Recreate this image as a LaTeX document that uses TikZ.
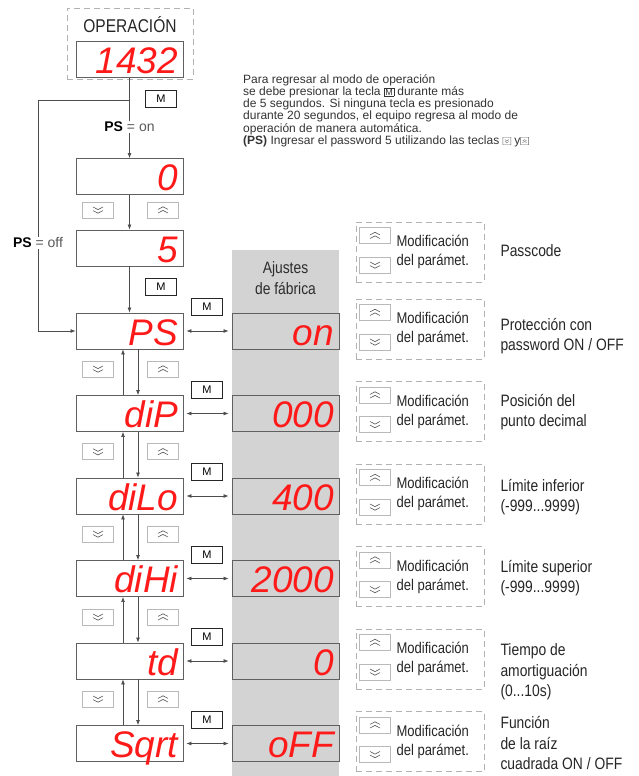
\documentclass[tikz,border=0pt]{standalone}
\usepackage{fontspec}
\setmainfont{Liberation Sans}
\newfontfamily\narrowfont[FakeStretch=0.84]{Liberation Sans}
\newfontfamily\segfont{Liberation Sans}
\usetikzlibrary{arrows.meta,positioning}
\definecolor{segred}{HTML}{FF1A1A}
\definecolor{linegray}{HTML}{4D4D4D}
\definecolor{colgray}{HTML}{D3D3D3}

% small key icons used inside the note
\newcommand{\icM}{{\fboxsep=0.8pt\fboxrule=0.5pt\fbox{\fontsize{9}{9}\selectfont M}}}
\newcommand{\icdn}{\tikz[baseline=0pt]{\draw[gray!80!black, line width=0.4pt] (0pt,-0.5pt) rectangle (8pt,7pt) (2pt,4.6pt)--(4pt,3.4pt)--(6pt,4.6pt) (2pt,2.8pt)--(4pt,1.6pt)--(6pt,2.8pt);}}
\newcommand{\icup}{\tikz[baseline=0pt]{\draw[gray!80!black, line width=0.4pt] (0pt,-0.5pt) rectangle (8pt,7pt) (2pt,1.6pt)--(4pt,2.8pt)--(6pt,1.6pt) (2pt,3.4pt)--(4pt,4.6pt)--(6pt,3.4pt);}}

\begin{document}
\begin{tikzpicture}[
    x=1pt, y=-1pt,
    disp/.style={draw=gray!75!black, line width=0.9pt, fill=white, minimum width=107pt, minimum height=36pt,
        inner xsep=5pt, inner ysep=4pt, text width=97pt, text height=28pt, text depth=0pt, align=right,
        font=\segfont\itshape\fontsize{37}{37}\selectfont, text=segred},
    fab/.style={disp, fill=none},
    key/.style={draw=gray!55, line width=0.7pt, fill=white, minimum width=31pt, minimum height=16pt, inner sep=0pt},
    dnkey/.style={key, path picture={\draw[gray!70!black, line width=0.6pt]
        ([shift={(-5pt,3pt)}]path picture bounding box.center) -- ++(5pt,-2.6pt) -- ++(5pt,2.6pt)
        ([shift={(-5pt,-0.6pt)}]path picture bounding box.center) -- ++(5pt,-2.6pt) -- ++(5pt,2.6pt);}},
    upkey/.style={key, path picture={\draw[gray!70!black, line width=0.6pt]
        ([shift={(-5pt,-3pt)}]path picture bounding box.center) -- ++(5pt,2.6pt) -- ++(5pt,-2.6pt)
        ([shift={(-5pt,0.6pt)}]path picture bounding box.center) -- ++(5pt,2.6pt) -- ++(5pt,-2.6pt);}},
    mkey/.style={draw=gray!30!black, line width=0.7pt, fill=white, minimum width=31pt, minimum height=17pt,
        inner sep=0pt, font=\fontsize{11}{11}\selectfont},
    dbox/.style={draw=gray!60, dash pattern=on 6pt off 4pt, line width=0.9pt, minimum width=128pt, minimum height=60pt},
    arr/.style={-{Latex[length=5pt,width=4pt]}, draw=linegray, line width=0.7pt},
    darr/.style={{Latex[length=5pt,width=4pt]}-{Latex[length=5pt,width=4pt]}, draw=linegray, line width=0.7pt,
        shorten <=3pt, shorten >=3pt},
    lbl/.style={font=\narrowfont\fontsize{16.5}{20.5}\selectfont, align=left, anchor=west, text=black!85},
    modtxt/.style={font=\narrowfont\fontsize{15.5}{19}\selectfont, align=left, anchor=west, text=black!85},
    cond/.style={fill=white, inner sep=1pt, font=\fontsize{14}{14}\selectfont}
]
\useasboundingbox (0,0) rectangle (639,776);
\fill[colgray] (232,250) rectangle (339,776);

% operation display
\node[dbox, minimum width=126pt, minimum height=71pt] (opbox) at (130,43.5) {};
\node[font=\narrowfont\fontsize{18.5}{18.5}\selectfont, text=black!85] (optxt) at (130,25) {OPERACIÓN};
\node[disp] (op) at (129.5,59.5) {1432};

\node[anchor=north west, align=left, inner sep=0pt, font=\fontsize{12}{11}\selectfont, text=black!80] (note) at (243,74)
    {Para regresar al modo de operación\\
     se debe presionar la tecla \icM{} durante más\\
     de 5 segundos. Si ninguna tecla es presionado\\
     durante 20 segundos, el equipo regresa al modo de\\
     operación de manera automática.\\
     \textbf{(PS)} Ingresar el password 5 utilizando las teclas \icdn{} y\icup};

% password entry
\node[disp] (zero) at (129.5,176.5) {0};
\node[disp] (five) at (129.5,248) {5};
\node[mkey] (m0) at (161,99) {M};
\node[mkey] (m1) at (161,287) {M};
\node[dnkey] (dn0) at (98,210) {};
\node[upkey] (up0) at (163,210) {};

\node[font=\narrowfont\fontsize{16.5}{20.5}\selectfont, text=gray!35!black, align=center] (ajtxt) at (285.5,278) {Ajustes\\de fábrica};

% parameter rows
\foreach \n/\y/\d/\f in {ps/331/PS/on, dip/413.5/diP/000, dilo/496/diLo/400, dihi/578.5/diHi/2000, td/661/td/0, sqrt/743.5/Sqrt/oFF} {
  \node[disp] (\n) at (129.5,\y) {\d};
  \node[fab] (\n-fab) at (285.5,\y) {\f};
  \node[mkey] (\n-m) at (207,\y-24) {M};
  \draw[darr] (\n) -- (\n-fab);
  \node[dbox] (\n-box) at (420,\y-2) {};
  \node[upkey] (\n-up) at (375,\y-18.5) {};
  \node[dnkey] (\n-dn) at (375,\y+11) {};
  \node[modtxt] (\n-mod) at (393,\y-2) {Modificación\\del parámet.};
}
\node[dbox] (pc-box) at (420,252) {};
\node[upkey] (pc-up) at (375,235.5) {};
\node[dnkey] (pc-dn) at (375,265) {};
\node[modtxt] (pc-mod) at (393,252) {Modificación\\del parámet.};

\foreach \y [count=\k] in {369, 451.75, 534, 617, 699} {
  \node[dnkey] (ldn\k) at (98,\y) {};
  \node[upkey] (lup\k) at (163,\y) {};
}

\node[lbl] (pc-lbl) at (497,251) {Passcode};
\node[lbl] (ps-lbl) at (497,336) {Protección con\\password ON / OFF};
\node[lbl] (dip-lbl) at (497,412) {Posición del\\punto decimal};
\node[lbl] (dilo-lbl) at (497,497) {Límite inferior\\(-999...9999)};
\node[lbl] (dihi-lbl) at (497,578) {Límite superior\\(-999...9999)};
\node[lbl] (td-lbl) at (497,672) {Tiempo de\\amortiguación\\(0...10s)};
\node[lbl] (sqrt-lbl) at (497,743) {Función\\de la raíz\\cuadrada ON / OFF};

% connectors
\coordinate (br) at (129.5,100);
\coordinate (lft) at (38,100);
\draw[arr] (op) -- (zero);
\draw[arr] (br) -- (lft) |- (ps);
\node[cond] (pson) at (129.5,127) {\textbf{PS} \textcolor{gray!70!black}{= on}};
\node[cond] (psoff) at (38,243) {\textbf{PS} \textcolor{gray!70!black}{= off}};
\draw[arr] (zero) -- (five);
\draw[arr] (five) -- (ps);
\foreach \a/\b in {ps/dip, dip/dilo, dilo/dihi, dihi/td, td/sqrt} {
  \draw[arr] ([xshift=-6.5pt]\b.north) -- ([xshift=-6.5pt]\a.south);
  \draw[arr] ([xshift=8.5pt]\a.south) -- ([xshift=8.5pt]\b.north);
}
\end{tikzpicture}
\end{document}
